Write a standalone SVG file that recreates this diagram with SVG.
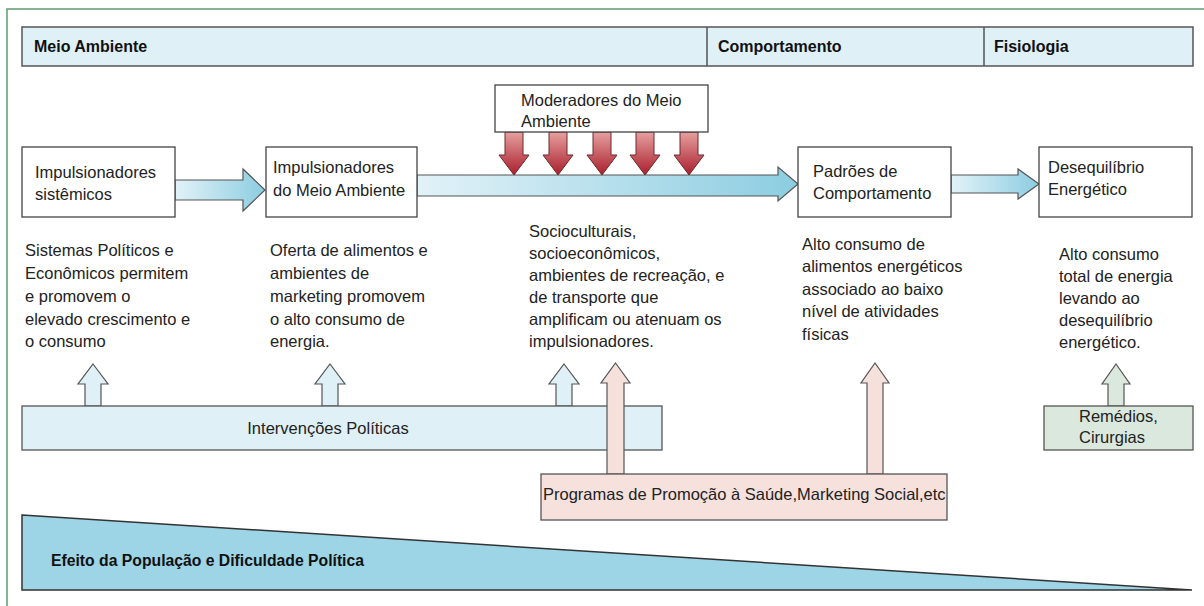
<svg xmlns="http://www.w3.org/2000/svg" width="1204" height="606" viewBox="0 0 1204 606">
<style>
.t{font-family:"Liberation Sans",Arial,sans-serif;font-size:16.5px;fill:#222;}
.h{font-family:"Liberation Sans",Arial,sans-serif;font-size:16px;font-weight:bold;fill:#111;}
.box{fill:#fff;stroke:#444;stroke-width:1.3;}
.hdr{fill:#dff0f7;stroke:#555;stroke-width:1.5;}
.harrow{fill:url(#gBlue);stroke:#555;stroke-width:1.2;}
.darrow{fill:url(#gRed);stroke:#6a2a2a;stroke-width:1;}
.ublue{fill:#dff0f7;stroke:#555;stroke-width:1.2;}
.upink{fill:#f6e0dc;stroke:#555;stroke-width:1.2;}
.ugreen{fill:#dbe8dd;stroke:#555;stroke-width:1.2;}
</style>
<defs>
<linearGradient id="gBlue" x1="0" y1="0" x2="1" y2="0">
<stop offset="0" stop-color="#e2f2f8"/>
<stop offset="1" stop-color="#8ccde1"/>
</linearGradient>
<linearGradient id="gRed" x1="0" y1="0" x2="0" y2="1">
<stop offset="0" stop-color="#e6a0a0"/>
<stop offset="1" stop-color="#aa1e2c"/>
</linearGradient>
</defs>

<rect x="7" y="9" width="1300" height="700" fill="none" stroke="#5e9e70" stroke-width="1.5"/>

<g id="header">
<rect class="hdr" x="22" y="27" width="1171" height="39"/>
<line x1="707" y1="27" x2="707" y2="66" stroke="#555" stroke-width="1.5"/>
<line x1="984" y1="27" x2="984" y2="66" stroke="#555" stroke-width="1.5"/>
<text class="h" x="34" y="52">Meio Ambiente</text>
<text class="h" x="718" y="52">Comportamento</text>
<text class="h" x="994" y="52">Fisiologia</text>
</g>

<g id="connectors">
<path class="harrow" d="M175,180 L243,180 L243,169 L265,190 L243,211 L243,200 L175,200 Z"/>
<path class="harrow" d="M417,175 L778,175 L778,167 L798,184 L778,201 L778,196 L417,196 Z"/>
<path class="harrow" d="M951,175 L1018,175 L1018,169 L1039,184 L1018,199 L1018,193 L951,193 Z"/>
<path class="darrow" d="M505,132 L523,132 L523,155 L529,155 L514,175 L499,155 L505,155 Z"/>
<path class="darrow" d="M549,132 L567,132 L567,155 L573,155 L558,175 L543,155 L549,155 Z"/>
<path class="darrow" d="M593,132 L611,132 L611,155 L617,155 L602,175 L587,155 L593,155 Z"/>
<path class="darrow" d="M636,132 L654,132 L654,155 L660,155 L645,175 L630,155 L636,155 Z"/>
<path class="darrow" d="M680,132 L698,132 L698,155 L704,155 L689,175 L674,155 L680,155 Z"/>
<path class="ublue" d="M93,364 L108,384 L101,384 L101,406 L85,406 L85,384 L78,384 Z"/>
<path class="ublue" d="M330,364 L345,384 L338,384 L338,406 L322,406 L322,384 L315,384 Z"/>
<path class="ublue" d="M564,364 L579,384 L572,384 L572,406 L556,406 L556,384 L549,384 Z"/>
<path class="ugreen" d="M1116,364 L1130,384 L1124,384 L1124,406 L1108,406 L1108,384 L1102,384 Z"/>
</g>

<g id="impulsionadores-sistemicos">
<rect class="box" x="22" y="147" width="153" height="70"/>
<text class="t" x="35" y="178">Impulsionadores</text>
<text class="t" x="35" y="200">sistêmicos</text>
</g>

<g id="impulsionadores-meio">
<rect class="box" x="266" y="147" width="151" height="70"/>
<text class="t" x="273" y="173">Impulsionadores</text>
<text class="t" x="273" y="196">do Meio Ambiente</text>
</g>

<g id="moderadores">
<rect class="box" x="495" y="85" width="213" height="47"/>
<text class="t" x="521" y="106">Moderadores do Meio</text>
<text class="t" x="521" y="127">Ambiente</text>
</g>

<g id="padroes">
<rect class="box" x="798" y="147" width="153" height="70"/>
<text class="t" x="813" y="177">Padrões de</text>
<text class="t" x="813" y="199">Comportamento</text>
</g>

<g id="desequilibrio">
<rect class="box" x="1039" y="147" width="153" height="70"/>
<text class="t" x="1048" y="173">Desequilíbrio</text>
<text class="t" x="1048" y="195">Energético</text>
</g>

<g id="desc-sistemas">
<text class="t" x="25" y="256">Sistemas Políticos e</text>
<text class="t" x="25" y="279">Econômicos permitem</text>
<text class="t" x="25" y="302">e promovem o</text>
<text class="t" x="25" y="325">elevado crescimento e</text>
<text class="t" x="25" y="347">o consumo</text>
</g>

<g id="desc-oferta">
<text class="t" x="270" y="256">Oferta de alimentos e</text>
<text class="t" x="270" y="279">ambientes de</text>
<text class="t" x="270" y="302">marketing promovem</text>
<text class="t" x="270" y="325">o alto consumo de</text>
<text class="t" x="270" y="347">energia.</text>
</g>

<g id="desc-socio">
<text class="t" x="529" y="237">Socioculturais,</text>
<text class="t" x="529" y="259">socioeconômicos,</text>
<text class="t" x="529" y="281">ambientes de recreação, e</text>
<text class="t" x="529" y="303">de transporte que</text>
<text class="t" x="529" y="325">amplificam ou atenuam os</text>
<text class="t" x="529" y="347">impulsionadores.</text>
</g>

<g id="desc-alto-consumo">
<text class="t" x="802" y="250">Alto consumo de</text>
<text class="t" x="802" y="272">alimentos energéticos</text>
<text class="t" x="802" y="295">associado ao baixo</text>
<text class="t" x="802" y="317">nível de atividades</text>
<text class="t" x="802" y="340">físicas</text>
</g>

<g id="desc-energia">
<text class="t" x="1059" y="260">Alto consumo</text>
<text class="t" x="1059" y="282">total de energia</text>
<text class="t" x="1059" y="304">levando ao</text>
<text class="t" x="1059" y="326">desequilíbrio</text>
<text class="t" x="1059" y="348">energético.</text>
</g>

<g id="intervencoes">
<rect x="22" y="406" width="640" height="44" fill="#dff0f7" stroke="#555" stroke-width="1.3"/>
<text class="t" x="328" y="434" text-anchor="middle">Intervenções Políticas</text>
</g>

<g id="remedios">
<rect x="1044" y="406" width="149" height="44" fill="#dbe8dd" stroke="#555" stroke-width="1.3"/>
<text class="t" x="1079" y="422">Remédios,</text>
<text class="t" x="1079" y="443">Cirurgias</text>
</g>

<g id="pink-arrows">
<path class="upink" d="M615.5,363 L630,383 L624,383 L624,474 L607,474 L607,383 L601,383 Z"/>
<path class="upink" d="M875,363 L889,383 L883,383 L883,474 L867,474 L867,383 L861,383 Z"/>
</g>

<g id="programas">
<rect x="541" y="474" width="406" height="46" fill="#f6e1dd" stroke="#555" stroke-width="1.3"/>
<text class="t" x="543" y="500">Programas de Promoção à Saúde,Marketing Social,etc</text>
</g>

<g id="efeito">
<path d="M22,515 L1192,590 L22,590 Z" fill="#9dd4e6" stroke="#333" stroke-width="1.5"/>
<text class="h" x="51" y="566" font-size="14.5" textLength="313" lengthAdjust="spacingAndGlyphs">Efeito da População e Dificuldade Política</text>
</g>
</svg>
